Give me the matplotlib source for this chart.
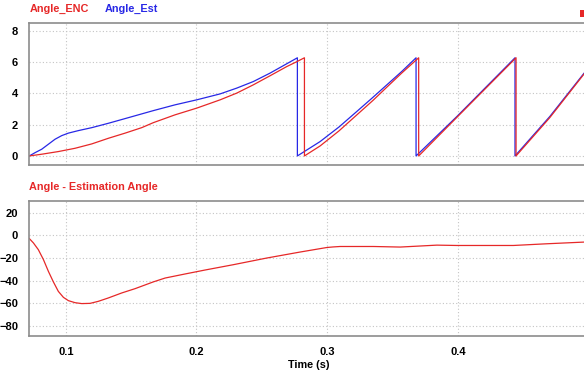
import matplotlib
matplotlib.use("Agg")
import matplotlib.pyplot as plt
from matplotlib.patches import Rectangle

plt.rcParams['font.family'] = ['Liberation Sans', 'DejaVu Sans']
plt.rcParams['font.weight'] = 'bold'

# angle from encoder (red), sawtooth wrapping at 2*pi
enc_t = [0.0721, 0.0816, 0.0943, 0.1071, 0.1199, 0.1326, 0.1454, 0.1581, 0.1670, 0.1836,
         0.2002, 0.2181, 0.2308, 0.2435, 0.2563, 0.2691, 0.2760, 0.2826,
         0.2826, 0.2946, 0.3090, 0.3226, 0.3350, 0.3450, 0.3570, 0.3700,
         0.3700, 0.3990, 0.4445,
         0.4445, 0.4703, 0.4966]
enc_v = [0.0, 0.11, 0.28, 0.49, 0.77, 1.13, 1.46, 1.81, 2.13, 2.63,
         3.06, 3.59, 4.02, 4.55, 5.13, 5.72, 6.00, 6.28,
         0.0, 0.64, 1.60, 2.62, 3.55, 4.35, 5.30, 6.28,
         0.0, 2.45, 6.28,
         0.0, 2.45, 5.25]

# estimated angle (blue)
est_t = [0.0721, 0.0765, 0.0816, 0.0867, 0.0918, 0.0969, 0.1020, 0.1096, 0.1199, 0.1326,
         0.1454, 0.1581, 0.1670, 0.1836, 0.2002, 0.2181, 0.2308, 0.2435, 0.2563, 0.2691,
         0.2772,
         0.2772, 0.2946, 0.3090, 0.3226, 0.3350, 0.3450, 0.3570, 0.3680,
         0.3680, 0.3992, 0.4437,
         0.4437, 0.4703, 0.4966]
est_v = [0.0, 0.21, 0.43, 0.75, 1.07, 1.30, 1.46, 1.62, 1.81, 2.09,
         2.39, 2.69, 2.90, 3.27, 3.59, 3.97, 4.34, 4.76, 5.30, 5.90,
         6.28,
         0.0, 0.92, 1.85, 2.84, 3.75, 4.50, 5.40, 6.28,
         0.0, 2.52, 6.28,
         0.0, 2.52, 5.30]

# angle - estimation angle
err_t = [0.0721, 0.0752, 0.0790, 0.0829, 0.0867, 0.0905, 0.0943, 0.0982, 0.1020, 0.1071,
         0.1122, 0.1186, 0.1249, 0.1326, 0.1428, 0.1530, 0.1670, 0.1760, 0.1913, 0.2066,
         0.2282, 0.2538, 0.2793, 0.2997, 0.3045, 0.3099, 0.3354, 0.3558, 0.3839, 0.3992,
         0.4425, 0.4680, 0.4966]
err_v = [-2.9, -6.7, -12.7, -21.5, -31.9, -41.2, -49.6, -54.9, -57.8, -59.6,
         -60.4, -60.2, -58.4, -55.4, -51.0, -47.2, -41.2, -37.8, -34.2, -30.7,
         -26.0, -20.1, -14.8, -10.8, -10.3, -9.9, -9.9, -10.4, -8.7, -9.0,
         -9.0, -7.5, -6.0]

top_ticks = [0, 2, 4, 6, 8]
bot_ticks = [20, 0, -20, -40, -60, -80]
x_ticks = [0.1, 0.2, 0.3, 0.4]

RED = '#e62828'
BLUE = '#2828e6'

fig = plt.figure(figsize=(5.84, 3.75), dpi=100)
ax1 = fig.add_axes([0.0502, 0.56, 0.96, 0.378])
ax2 = fig.add_axes([0.0502, 0.1048, 0.96, 0.36])

ax1.plot(est_t, est_v, color=BLUE, lw=0.9)
ax1.plot(enc_t, enc_v, color=RED, lw=0.9)
ax2.plot(err_t, err_v, color=RED, lw=0.9)

xmax = 0.0721 + 0.96 * 5.84 * 100 / 1307
for ax in (ax1, ax2):
    ax.set_xlim(0.0721, xmax)
    ax.set_xticks(x_ticks)
    ax.grid(True, color='#c4c4c4', lw=0.8, linestyle=(0, (1, 2)))
    ax.tick_params(length=0, labelsize=8, colors='black')
    ax.tick_params(axis='y', pad=8)
    for s in ['left', 'top', 'bottom']:
        ax.spines[s].set_color('#8c8c8c')
        ax.spines[s].set_linewidth(1.2)
    ax.spines['right'].set_visible(False)

ax1.set_ylim(-0.58, 8.49)
ax1.set_yticks(top_ticks)
ax1.tick_params(labelbottom=False)

ax2.set_ylim(-88.8, 30.6)
ax2.set_yticks(bot_ticks)
ax2.set_xticklabels([str(v) for v in x_ticks])
ax2.tick_params(axis='x', pad=8)

fig.text(0.0502, 0.975, 'Angle_ENC', color=RED, fontsize=7.8, va='center', ha='left')
fig.text(0.18, 0.975, 'Angle_Est', color=BLUE, fontsize=7.8, va='center', ha='left')
fig.text(0.0502, 0.502, 'Angle - Estimation Angle', color=RED, fontsize=7.8, va='center', ha='left')
fig.text(0.528, 0.027, 'Time (s)', fontsize=7.8, va='center', ha='center')
fig.add_artist(Rectangle((0.993, 0.955), 0.01, 0.018, transform=fig.transFigure,
                         color=RED, lw=0))

fig.savefig('out.png', dpi=100)
